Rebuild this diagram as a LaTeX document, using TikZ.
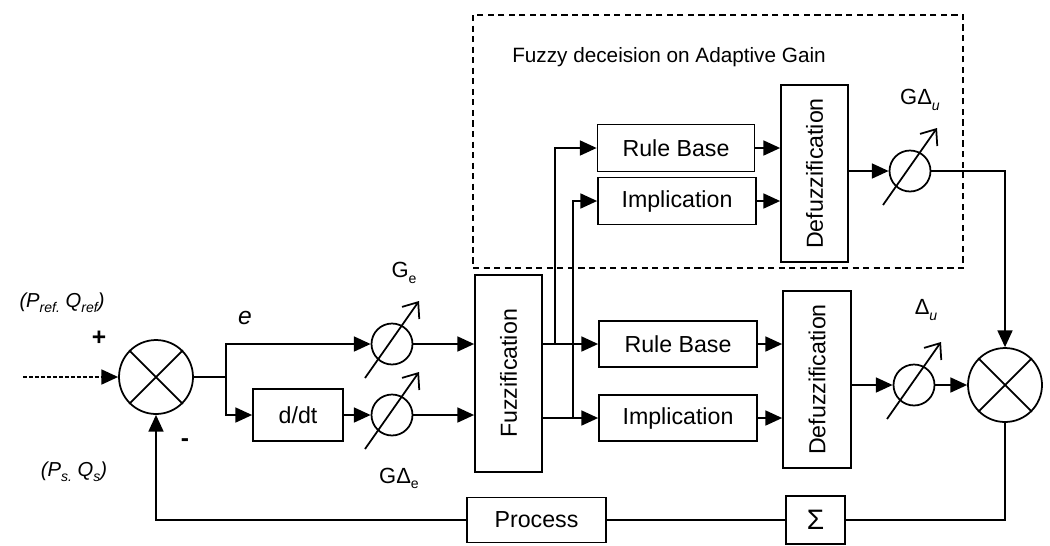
\documentclass[tikz,border=0pt]{standalone}
\usepackage{fontspec}
\setmainfont{Liberation Sans}
\usetikzlibrary{arrows.meta,calc}
\newcommand{\sbs}[1]{\raisebox{-0.45ex}{\fontsize{8}{8}\selectfont #1}}
\begin{document}
\begin{tikzpicture}[x=0.02cm,y=-0.02cm,
  line width=1pt,
  arr/.style={-{Triangle[length=9.5pt,width=8.5pt]}},
  blk/.style={draw,rectangle,inner sep=0pt,font=\fontsize{13.2}{15}\selectfont},
  summer/.style={draw,circle,inner sep=0pt,minimum size=1.48cm},
  gain/.style={draw,circle,inner sep=0pt,minimum size=0.82cm},
  gainarrow/.style={-{Straight Barb[length=7.5pt,width=12pt]}},
  lbl/.style={inner sep=0pt,font=\fontsize{12.5}{14}\selectfont}
]
\useasboundingbox (0,0) rectangle (1050,545);

% dashed region
\draw[dash pattern=on 3.5pt off 2.5pt,line width=0.8pt] (473,15) rectangle (963,268);
\node[lbl,font=\fontsize{11.8}{13}\selectfont] (title) at (669,57) {Fuzzy deceision on Adaptive Gain};

% summing junctions
\node[summer] (sum1) at (156,377) {};
\draw (sum1.north west) -- (sum1.south east) (sum1.north east) -- (sum1.south west);
\node[summer] (sum2) at (1005,385) {};
\draw (sum2.north west) -- (sum2.south east) (sum2.north east) -- (sum2.south west);

% blocks
\node[blk,minimum width=1.8cm,minimum height=1.04cm] (ddt) at (298,415) {d/dt};
\node[blk,minimum width=1.34cm,minimum height=3.94cm] (fuzz) at (508.5,373.5) {\rotatebox{90}{Fuzzification}};
\node[blk,minimum width=3.14cm,minimum height=0.94cm] (rb1) at (676,148) {Rule Base};
\node[blk,minimum width=3.16cm,minimum height=0.94cm] (im1) at (677,201) {Implication};
\node[blk,minimum width=1.34cm,minimum height=3.54cm] (df1) at (814.5,173.5) {\rotatebox{90}{Defuzzification}};
\node[blk,minimum width=3.16cm,minimum height=0.92cm] (rb2) at (678,344) {Rule Base};
\node[blk,minimum width=3.16cm,minimum height=0.92cm] (im2) at (678,418) {Implication};
\node[blk,minimum width=1.36cm,minimum height=3.54cm] (df2) at (817,379.5) {\rotatebox{90}{Defuzzification}};
\node[blk,minimum width=2.78cm,minimum height=0.9cm] (proc) at (536.5,520) {Process};
\node[blk,minimum width=1.18cm,minimum height=0.96cm,font=\fontsize{16}{16}\selectfont] (sig) at (815.5,520) {Σ};

% gains
\node[gain] (g1) at (392,344) {};
\node[gain] (g2) at (392,415) {};
\node[gain] (g3) at (910,171) {};
\node[gain] (g4) at (914,385) {};
\foreach \g in {g1,g2,g3,g4}
  \draw[gainarrow] ([shift={(-27,34)}]\g.center) -- ([shift={(27,-43)}]\g.center);

% labels
\node[lbl,font=\fontsize{11.5}{13}\selectfont\itshape] (pref) at (62,303) {(P\sbs{ref.} Q\sbs{ref})};
\node[lbl,font=\fontsize{14}{14}\selectfont\bfseries] (plus) at (99,338) {+};
\node[lbl,font=\fontsize{14}{14}\selectfont\bfseries] (minus) at (185,443) {-};
\node[lbl,font=\fontsize{11.5}{13}\selectfont\itshape] (ps) at (74,472) {(P\sbs{s.} Q\sbs{s})};
\node[lbl,font=\fontsize{14}{14}\selectfont\itshape] (elbl) at (245,318) {e};
\node[lbl] (gelbl) at (404,273) {G\sbs{e}};
\node[lbl] (gdelbl) at (399,478) {GΔ\sbs{e}};
\node[lbl] (gdulbl) at (920,100) {GΔ\sbs{\itshape u}};
\node[lbl] (dulbl) at (926,310) {Δ\sbs{\itshape u}};

% input and error paths
\coordinate (in) at (23,377);
\draw[arr,dash pattern=on 2.2pt off 1.2pt] (in) -- (sum1.west);
\coordinate (j1) at (226,377);
\draw (sum1.east) -- (j1);
\draw[arr] (j1) |- (g1.west);
\draw[arr] (j1) |- (ddt.west);
\draw[arr] (ddt.east) -- (g2.west);
\draw[arr] (g1.east) -- (g1.east -| fuzz.west);
\draw[arr] (g2.east) -- (g2.east -| fuzz.west);

% fuzzification outputs
\draw[arr] (fuzz.east |- rb2.west) -- (rb2.west);
\draw[arr] (fuzz.east |- im2.west) -- (im2.west);
\coordinate (v1) at (555,344);
\coordinate (v2) at (573,418);
\draw[arr] (v1) |- (rb1.west);
\draw[arr] (v2) |- (im1.west);

% to defuzzification
\draw[arr] (rb1.east) -- (rb1.east -| df1.west);
\draw[arr] (im1.east) -- (im1.east -| df1.west);
\draw[arr] (rb2.east) -- (rb2.east -| df2.west);
\draw[arr] (im2.east) -- (im2.east -| df2.west);

% outputs
\draw[arr] (df1.east |- g3.west) -- (g3.west);
\draw[arr] (g3.east) -| (sum2.north);
\draw[arr] (df2.east |- g4.west) -- (g4.west);
\draw[arr] (g4.east) -- (sum2.west);

% feedback
\draw (sum2.south) |- (sig.east);
\draw (sig.west) -- (proc.east);
\draw[arr] (proc.west) -| (sum1.south);
\end{tikzpicture}
\end{document}
